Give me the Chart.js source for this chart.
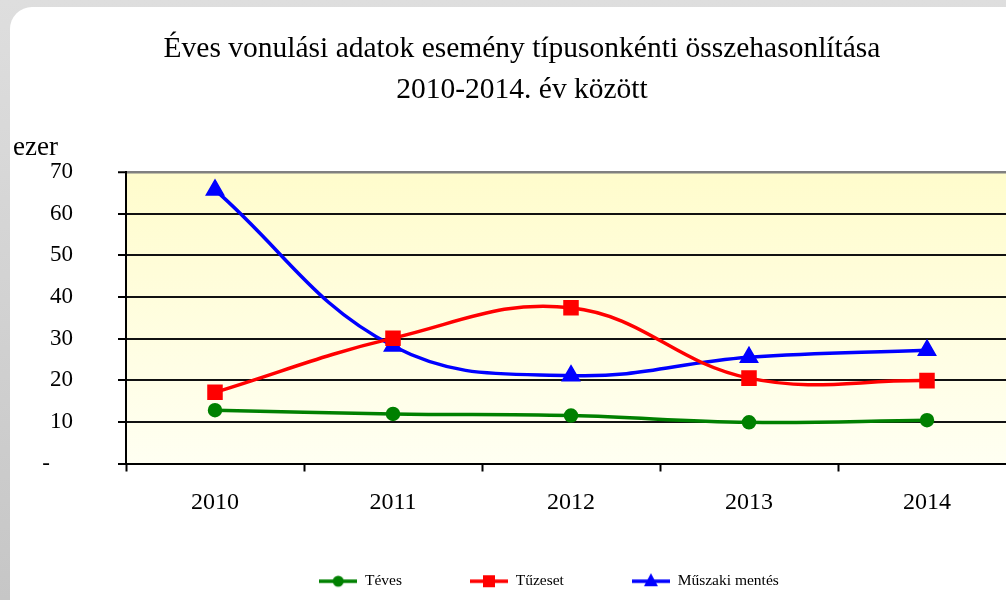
<!DOCTYPE html>
<html>
<head>
<meta charset="utf-8">
<script src="https://cdn.jsdelivr.net/npm/chart.js@4.4.0/dist/chart.umd.min.js"></script>
<style>
  html, body { margin: 0; padding: 0; width: 1006px; height: 600px; overflow: hidden; background: linear-gradient(#dedede, #c6c6c6); }
  #panel { position: absolute; left: 10px; top: 7px; width: 1024px; height: 640px; background: #fff; border-radius: 22px; overflow: hidden; }
</style>
</head>
<body>
<div id="panel"><canvas id="vonulasChart" width="1024" height="604"></canvas></div>
<script>
// Adatok (ezer db)
const evek = ['2010', '2011', '2012', '2013', '2014'];
const teves = [12.8, 11.9, 11.5, 9.9, 10.4];
const tuzeset = [17.1, 30.1, 37.4, 20.5, 19.9];
const muszaki = [65.7, 28.2, 21.1, 25.5, 27.2];

const betu = '"Liberation Serif", "Times New Roman", serif';

// Jelmagyarázat ikon: vonal + jelölő
function jelolo(szin, forma) {
    const c = document.createElement('canvas');
    c.width = 38; c.height = 18;
    const g = c.getContext('2d');
    g.strokeStyle = szin; g.fillStyle = szin; g.lineWidth = 3.5;
    g.beginPath(); g.moveTo(0, 9); g.lineTo(38, 9); g.stroke();
    g.beginPath();
    if (forma === 'circle') g.arc(19, 9, 5.5, 0, Math.PI * 2);
    if (forma === 'rect') g.rect(13, 3, 12, 12);
    if (forma === 'triangle') { g.moveTo(19, 1); g.lineTo(26, 14); g.lineTo(12, 14); g.closePath(); }
    g.fill();
    return c;
}

// Rajzterület háttér színátmenet + "ezer" felirat
const hatter = {
    id: 'hatter',
    beforeDraw(chart) {
        const {ctx, chartArea: a} = chart;
        const gr = ctx.createLinearGradient(0, a.top, 0, a.bottom);
        gr.addColorStop(0, '#fffccc');
        gr.addColorStop(1, '#fffff2');
        ctx.save();
        ctx.fillStyle = gr;
        ctx.fillRect(a.left, a.top, a.right - a.left, a.bottom - a.top);
        ctx.restore();
    },
    afterDraw(chart) {
        const ctx = chart.ctx;
        ctx.save();
        ctx.font = '27px ' + betu;
        ctx.fillStyle = '#000';
        ctx.textBaseline = 'alphabetic';
        ctx.fillText('ezer', 3, 148);
        ctx.restore();
    }
};

// a jelmagyarázat kicsit jobbra és feljebb ül
const legendEltolas = {
    id: 'legendEltolas',
    afterLayout(chart) {
        const l = chart.legend;
        l.left += 27; l.right += 27;
        l.top -= 12; l.bottom -= 12;
    }
};

const ctx = document.getElementById('vonulasChart').getContext('2d');
const vonulasChart = new Chart(ctx, {
    type: 'line',
    data: {
        labels: evek,
        datasets: [{
            label: 'Téves',
            data: teves,
            borderColor: '#008000',
            backgroundColor: '#008000',
            borderWidth: 3.5,
            pointStyle: 'circle',
            pointRadius: 5.5,
            tension: 0.4
        }, {
            label: 'Tűzeset',
            data: tuzeset,
            borderColor: '#ff0000',
            backgroundColor: '#ff0000',
            borderWidth: 3.5,
            pointStyle: 'rect',
            pointRadius: 8.5,
            tension: 0.4
        }, {
            label: 'Műszaki mentés',
            data: muszaki,
            borderColor: '#0000ff',
            backgroundColor: '#0000ff',
            borderWidth: 3.5,
            pointStyle: 'triangle',
            pointRadius: 8,
            tension: 0.4
        }]
    },
    options: {
        responsive: false,
        animation: false,
        layout: { padding: { left: 18, right: 18, top: 0, bottom: 0 } },
        plugins: {
            title: {
                display: true,
                text: ['Éves vonulási adatok esemény típusonkénti összehasonlítása', '2010-2014. év között'],
                color: '#000',
                font: { family: betu, size: 29.5, weight: 'normal', lineHeight: 1.39 },
                padding: { top: 22, bottom: 61 }
            },
            legend: {
                position: 'bottom',
                labels: {
                    usePointStyle: true,
                    pointStyleWidth: 38,
                    padding: 68,
                    color: '#000',
                    font: { family: betu, size: 15.5 },
                    generateLabels: (chart) => chart.data.datasets.map((ds, i) => ({
                        text: ds.label,
                        pointStyle: jelolo(ds.borderColor, ds.pointStyle),
                        fillStyle: ds.borderColor,
                        strokeStyle: ds.borderColor,
                        lineWidth: 0,
                        hidden: false,
                        datasetIndex: i
                    }))
                }
            },
            tooltip: { enabled: false }
        },
        scales: {
            x: {
                offset: true,
                afterFit: (s) => { s.height = 54; },
                grid: {
                    offset: true,
                    drawOnChartArea: false,
                    drawTicks: true,
                    tickLength: 8,
                    tickColor: '#000',
                    tickWidth: 2
                },
                border: { color: '#000', width: 2 },
                ticks: {
                    color: '#000',
                    padding: 17,
                    font: { family: betu, size: 24 }
                }
            },
            y: {
                min: 0,
                max: 70,
                afterFit: (s) => { s.width = 98; },
                grid: {
                    color: (c) => c.tick && c.tick.value === 70 ? '#808080' : '#111',
                    lineWidth: (c) => c.tick && c.tick.value === 70 ? 2.5 : 2,
                    tickLength: 8,
                    tickColor: '#000',
                    tickWidth: 2
                },
                border: { color: '#000', width: 2 },
                ticks: {
                    stepSize: 10,
                    color: '#000',
                    padding: 45,
                    font: { family: betu, size: 23 },
                    callback: (v) => v === 0 ? '-    ' : v
                }
            }
        }
    },
    plugins: [hatter, legendEltolas]
});
</script>
</body>
</html>
